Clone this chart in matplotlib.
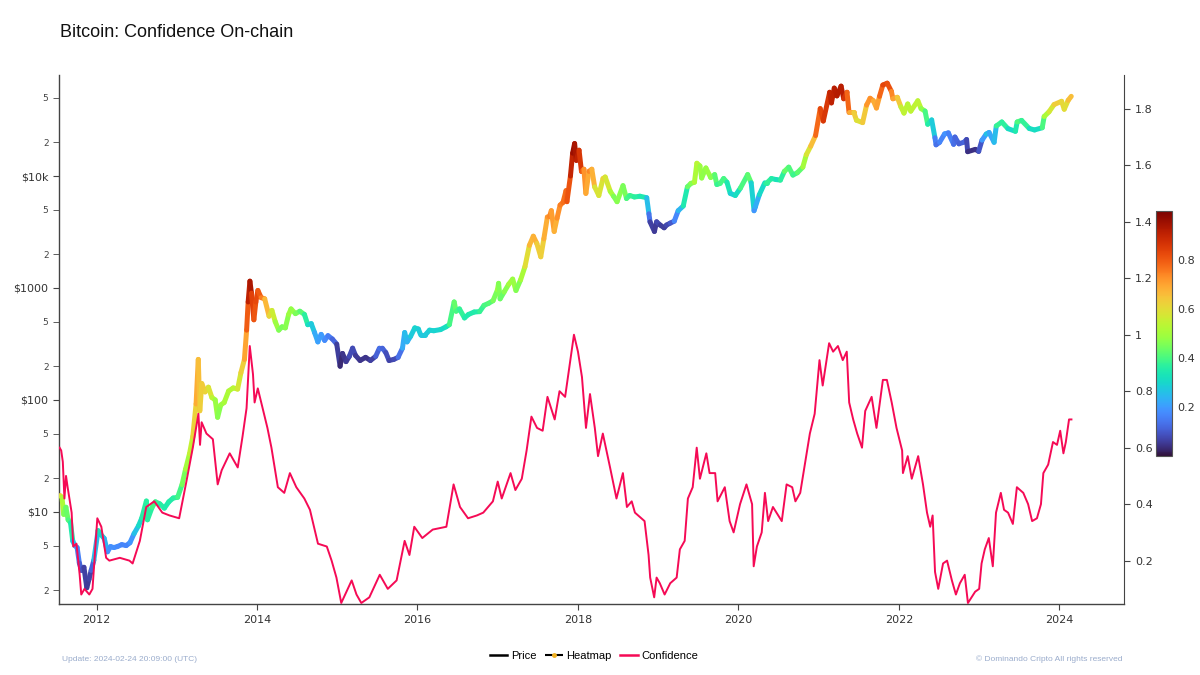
import numpy as np
import pandas as pd
import matplotlib
matplotlib.use("Agg")
import matplotlib.pyplot as plt
from matplotlib.collections import LineCollection
from matplotlib.colors import Normalize
from matplotlib.cm import ScalarMappable
from matplotlib.lines import Line2D
from matplotlib.ticker import FixedLocator, FuncFormatter, NullFormatter

# --- price (USD) with heatmap value ---
price_dates = [
    "2011-07-20", "2011-07-28", "2011-08-05", "2011-08-15", "2011-08-25", "2011-09-05", "2011-09-15",
    "2011-09-25", "2011-10-05", "2011-10-15", "2011-10-25", "2011-11-05", "2011-11-18", "2011-11-28",
    "2011-12-08", "2011-12-20", "2012-01-08", "2012-01-20", "2012-02-05", "2012-02-20", "2012-03-05",
    "2012-03-20", "2012-04-05", "2012-04-25", "2012-05-15", "2012-06-01", "2012-06-20", "2012-07-10",
    "2012-07-25", "2012-08-15", "2012-08-20", "2012-09-10", "2012-09-25", "2012-10-15", "2012-11-05",
    "2012-11-25", "2012-12-15", "2013-01-05", "2013-01-25", "2013-02-10", "2013-02-28", "2013-03-15",
    "2013-03-30", "2013-04-09", "2013-04-16", "2013-04-25", "2013-05-10", "2013-05-25", "2013-06-10",
    "2013-06-25", "2013-07-06", "2013-07-20", "2013-08-05", "2013-08-25", "2013-09-15", "2013-10-05",
    "2013-10-20", "2013-11-05", "2013-11-15", "2013-11-22", "2013-11-30", "2013-12-07", "2013-12-18",
    "2013-12-27", "2014-01-05", "2014-01-20", "2014-02-05", "2014-02-25", "2014-03-10", "2014-03-25",
    "2014-04-10", "2014-04-25", "2014-05-10", "2014-05-25", "2014-06-05", "2014-06-25", "2014-07-15",
    "2014-08-05", "2014-08-20", "2014-09-05", "2014-09-20", "2014-10-05", "2014-10-20", "2014-11-05",
    "2014-11-20", "2014-12-10", "2014-12-30", "2015-01-14", "2015-01-25", "2015-02-10", "2015-02-25",
    "2015-03-12", "2015-03-25", "2015-04-15", "2015-05-10", "2015-06-01", "2015-06-25", "2015-07-12",
    "2015-07-25", "2015-08-10", "2015-08-25", "2015-09-15", "2015-10-05", "2015-10-25", "2015-11-04",
    "2015-11-15", "2015-12-01", "2015-12-20", "2016-01-05", "2016-01-16", "2016-02-05", "2016-02-25",
    "2016-03-15", "2016-04-15", "2016-05-10", "2016-05-25", "2016-06-16", "2016-06-25", "2016-07-10",
    "2016-08-02", "2016-08-20", "2016-09-15", "2016-10-10", "2016-10-30", "2016-11-20", "2016-12-10",
    "2016-12-30", "2017-01-05", "2017-01-12", "2017-01-30", "2017-02-20", "2017-03-10", "2017-03-25",
    "2017-04-15", "2017-05-05", "2017-05-25", "2017-06-12", "2017-06-28", "2017-07-16", "2017-07-30",
    "2017-08-15", "2017-08-25", "2017-09-02", "2017-09-15", "2017-09-28", "2017-10-12", "2017-10-25",
    "2017-11-08", "2017-11-12", "2017-11-28", "2017-12-08", "2017-12-17", "2017-12-25", "2018-01-06",
    "2018-01-17", "2018-01-28", "2018-02-06", "2018-02-20", "2018-03-05", "2018-03-18", "2018-04-06",
    "2018-04-25", "2018-05-05", "2018-05-28", "2018-06-12", "2018-06-28", "2018-07-25", "2018-08-10",
    "2018-08-25", "2018-09-15", "2018-10-10", "2018-11-10", "2018-11-20", "2018-11-25", "2018-12-15",
    "2018-12-25", "2019-01-10", "2019-01-28", "2019-02-08", "2019-02-25", "2019-03-15", "2019-04-02",
    "2019-04-25", "2019-05-14", "2019-05-30", "2019-06-15", "2019-06-26", "2019-07-10", "2019-07-18",
    "2019-08-06", "2019-08-28", "2019-09-15", "2019-09-25", "2019-10-10", "2019-10-26", "2019-11-10",
    "2019-11-25", "2019-12-18", "2020-01-10", "2020-02-12", "2020-02-28", "2020-03-12", "2020-03-18",
    "2020-04-05", "2020-04-30", "2020-05-10", "2020-05-30", "2020-06-20", "2020-07-10", "2020-07-28",
    "2020-08-17", "2020-09-05", "2020-09-25", "2020-10-20", "2020-11-05", "2020-11-25", "2020-12-17",
    "2021-01-08", "2021-01-22", "2021-02-20", "2021-02-28", "2021-03-13", "2021-03-25", "2021-04-13",
    "2021-04-25", "2021-05-10", "2021-05-19", "2021-06-10", "2021-06-22", "2021-07-20", "2021-08-07",
    "2021-08-23", "2021-09-07", "2021-09-21", "2021-10-05", "2021-10-20", "2021-11-09", "2021-11-28",
    "2021-12-05", "2021-12-25", "2022-01-10", "2022-01-24", "2022-02-10", "2022-02-24", "2022-03-28",
    "2022-04-12", "2022-04-30", "2022-05-12", "2022-05-30", "2022-06-14", "2022-06-19", "2022-07-05",
    "2022-07-28", "2022-08-14", "2022-09-07", "2022-09-13", "2022-10-01", "2022-10-25", "2022-11-05",
    "2022-11-10", "2022-12-15", "2022-12-30", "2023-01-14", "2023-02-02", "2023-02-15", "2023-03-10",
    "2023-03-20", "2023-04-14", "2023-05-12", "2023-06-15", "2023-06-23", "2023-07-13", "2023-08-17",
    "2023-09-10", "2023-10-15", "2023-10-24", "2023-11-15", "2023-12-08", "2024-01-11", "2024-01-23",
    "2024-02-10", "2024-02-24",
]
price = [
    14, 13.5, 9.5, 11, 8.5, 8, 5.5, 5.0, 4.8, 3.5, 3.0, 3.2, 2.1, 2.5, 3.0, 3.7, 6.8, 6.3, 5.8, 4.4,
    4.9, 4.8, 4.9, 5.1, 5.0, 5.3, 6.4, 7.5, 8.8, 12.5, 8.5, 11.0, 12.3, 11.8, 10.8, 12.3, 13.3, 13.5,
    17.5, 24, 33, 47, 92, 230, 80, 140, 118, 130, 105, 100, 70, 90, 95, 120, 128, 125, 175, 230, 420,
    750, 1150, 900, 520, 750, 950, 820, 800, 560, 630, 500, 420, 450, 440, 580, 650, 590, 620, 580, 470,
    480, 400, 330, 385, 340, 375, 350, 315, 200, 260, 220, 245, 290, 250, 225, 240, 225, 245, 290, 290,
    265, 225, 230, 240, 290, 400, 330, 370, 440, 430, 380, 380, 420, 415, 425, 450, 470, 750, 620, 650,
    540, 580, 610, 615, 700, 730, 770, 960, 1100, 800, 920, 1080, 1200, 950, 1180, 1550, 2400, 2900,
    2500, 1900, 2750, 4300, 4350, 4900, 3200, 4200, 5500, 5800, 7400, 5900, 10000, 16000, 19500, 13800,
    17000, 11000, 11500, 7000, 11000, 11500, 8000, 6700, 9500, 9800, 7300, 6600, 5900, 8200, 6300, 6700,
    6500, 6600, 6400, 4600, 3900, 3200, 3900, 3650, 3450, 3650, 3800, 3950, 4900, 5400, 8000, 8600, 8800,
    13000, 12300, 9600, 11800, 9700, 10300, 8400, 8600, 9500, 8800, 7000, 6700, 7800, 10300, 8700, 4900,
    5300, 6800, 8700, 8700, 9500, 9300, 9200, 11000, 12000, 10200, 10700, 12000, 15500, 18500, 23000,
    40000, 31000, 56000, 45000, 61000, 52000, 63500, 49000, 56000, 37000, 37000, 31500, 30000, 43000,
    49500, 47000, 40500, 51500, 65000, 67500, 57000, 49000, 50500, 41500, 36500, 44000, 38000, 47000,
    40000, 38000, 29000, 31700, 22000, 19000, 20000, 23800, 24300, 19200, 22300, 19400, 20100, 21200,
    16500, 17300, 16600, 20900, 23700, 24500, 20000, 28000, 30400, 26500, 25100, 30400, 31400, 26600,
    25800, 27000, 34000, 37500, 43500, 46500, 39500, 47500, 51500,
]
heat = [
    0.62, 0.58, 0.45, 0.45, 0.42, 0.40, 0.30, 0.22, 0.20, 0.12, 0.10, 0.08, 0.05, 0.06, 0.08, 0.15, 0.35,
    0.32, 0.28, 0.20, 0.18, 0.18, 0.18, 0.17, 0.16, 0.17, 0.22, 0.30, 0.32, 0.40, 0.33, 0.40, 0.40, 0.37,
    0.35, 0.35, 0.36, 0.37, 0.42, 0.48, 0.52, 0.58, 0.66, 0.72, 0.60, 0.65, 0.62, 0.62, 0.55, 0.52, 0.45,
    0.48, 0.50, 0.52, 0.52, 0.55, 0.60, 0.65, 0.75, 0.85, 0.97, 0.90, 0.78, 0.83, 0.82, 0.78, 0.72, 0.62,
    0.60, 0.52, 0.46, 0.45, 0.45, 0.48, 0.50, 0.46, 0.44, 0.40, 0.33, 0.30, 0.25, 0.20, 0.22, 0.18, 0.17,
    0.14, 0.10, 0.02, 0.05, 0.05, 0.06, 0.10, 0.06, 0.05, 0.05, 0.05, 0.08, 0.14, 0.13, 0.10, 0.07, 0.07,
    0.09, 0.18, 0.28, 0.22, 0.26, 0.30, 0.30, 0.27, 0.27, 0.29, 0.29, 0.30, 0.31, 0.34, 0.46, 0.40, 0.40,
    0.35, 0.35, 0.35, 0.36, 0.40, 0.41, 0.42, 0.48, 0.50, 0.42, 0.45, 0.48, 0.52, 0.45, 0.47, 0.55, 0.65,
    0.70, 0.66, 0.60, 0.65, 0.72, 0.72, 0.76, 0.66, 0.70, 0.76, 0.74, 0.80, 0.76, 0.86, 0.94, 0.98, 0.90,
    0.92, 0.80, 0.80, 0.65, 0.74, 0.74, 0.62, 0.55, 0.62, 0.62, 0.53, 0.48, 0.43, 0.50, 0.40, 0.40, 0.37,
    0.36, 0.33, 0.18, 0.10, 0.03, 0.08, 0.07, 0.05, 0.07, 0.08, 0.12, 0.22, 0.27, 0.42, 0.45, 0.48, 0.55,
    0.52, 0.45, 0.50, 0.47, 0.46, 0.38, 0.38, 0.42, 0.38, 0.30, 0.28, 0.36, 0.45, 0.40, 0.18, 0.20, 0.26,
    0.35, 0.37, 0.38, 0.33, 0.32, 0.42, 0.44, 0.38, 0.40, 0.45, 0.55, 0.62, 0.70, 0.86, 0.80, 0.92, 0.88,
    0.94, 0.90, 0.95, 0.88, 0.85, 0.72, 0.66, 0.60, 0.58, 0.70, 0.74, 0.72, 0.66, 0.75, 0.82, 0.85, 0.78,
    0.70, 0.70, 0.58, 0.52, 0.56, 0.50, 0.58, 0.50, 0.45, 0.35, 0.36, 0.20, 0.12, 0.15, 0.18, 0.20, 0.12,
    0.14, 0.10, 0.12, 0.12, 0.03, 0.05, 0.04, 0.15, 0.25, 0.28, 0.16, 0.34, 0.42, 0.32, 0.30, 0.40, 0.42,
    0.33, 0.30, 0.33, 0.48, 0.55, 0.60, 0.66, 0.56, 0.64, 0.68,
]

# --- confidence (right axis), x in decimal years ---
conf_year = [
    2011.54, 2011.56, 2011.58, 2011.60, 2011.62, 2011.64, 2011.69, 2011.71, 2011.75, 2011.79, 2011.81,
    2011.85, 2011.91, 2011.95, 2012.01, 2012.06, 2012.12, 2012.16, 2012.29, 2012.41, 2012.45, 2012.54,
    2012.62, 2012.72, 2012.82, 2012.91, 2013.03, 2013.12, 2013.20, 2013.27, 2013.29, 2013.31, 2013.37,
    2013.45, 2013.51, 2013.56, 2013.66, 2013.72, 2013.76, 2013.82, 2013.87, 2013.91, 2013.95, 2013.97,
    2014.01, 2014.07, 2014.13, 2014.18, 2014.26, 2014.34, 2014.41, 2014.49, 2014.59, 2014.66, 2014.76,
    2014.87, 2014.93, 2014.99, 2015.05, 2015.18, 2015.24, 2015.30, 2015.40, 2015.53, 2015.63, 2015.74,
    2015.84, 2015.90, 2015.96, 2016.06, 2016.19, 2016.36, 2016.45, 2016.53, 2016.63, 2016.74, 2016.82,
    2016.94, 2017.00, 2017.05, 2017.16, 2017.22, 2017.30, 2017.36, 2017.42, 2017.49, 2017.56, 2017.62,
    2017.71, 2017.77, 2017.84, 2017.88, 2017.95, 2018.00, 2018.05, 2018.10, 2018.15, 2018.21, 2018.25,
    2018.31, 2018.40, 2018.48, 2018.56, 2018.61, 2018.67, 2018.71, 2018.83, 2018.88, 2018.90, 2018.95,
    2018.98, 2019.02, 2019.08, 2019.15, 2019.23, 2019.27, 2019.33, 2019.37, 2019.43, 2019.48, 2019.52,
    2019.60, 2019.64, 2019.71, 2019.74, 2019.83, 2019.89, 2019.94, 2020.02, 2020.10, 2020.17, 2020.19,
    2020.23, 2020.29, 2020.33, 2020.37, 2020.43, 2020.54, 2020.60, 2020.67, 2020.71, 2020.77, 2020.81,
    2020.85, 2020.89, 2020.95, 2021.01, 2021.05, 2021.13, 2021.18, 2021.24, 2021.30, 2021.35, 2021.38,
    2021.43, 2021.48, 2021.54, 2021.58, 2021.66, 2021.72, 2021.80, 2021.85, 2021.91, 2021.97, 2022.04,
    2022.05, 2022.11, 2022.16, 2022.24, 2022.30, 2022.35, 2022.39, 2022.42, 2022.45, 2022.49, 2022.55,
    2022.60, 2022.66, 2022.71, 2022.76, 2022.82, 2022.86, 2022.95, 2023.00, 2023.03, 2023.07, 2023.12,
    2023.17, 2023.21, 2023.27, 2023.31, 2023.36, 2023.42, 2023.47, 2023.55, 2023.61, 2023.66, 2023.72,
    2023.77, 2023.80, 2023.86, 2023.92, 2023.97, 2024.01, 2024.05, 2024.08, 2024.12, 2024.15,
]
confidence = [
    0.60, 0.59, 0.55, 0.42, 0.50, 0.46, 0.37, 0.25, 0.26, 0.15, 0.08, 0.10, 0.08, 0.10, 0.35, 0.32, 0.21,
    0.20, 0.21, 0.20, 0.19, 0.27, 0.39, 0.41, 0.37, 0.36, 0.35, 0.48, 0.60, 0.72, 0.61, 0.69, 0.65, 0.63,
    0.47, 0.52, 0.58, 0.55, 0.53, 0.64, 0.74, 0.96, 0.86, 0.76, 0.81, 0.74, 0.67, 0.60, 0.46, 0.44, 0.51,
    0.46, 0.42, 0.38, 0.26, 0.25, 0.20, 0.14, 0.05, 0.13, 0.08, 0.05, 0.07, 0.15, 0.10, 0.13, 0.27, 0.22,
    0.32, 0.28, 0.31, 0.32, 0.47, 0.39, 0.35, 0.36, 0.37, 0.41, 0.48, 0.42, 0.51, 0.45, 0.49, 0.59, 0.71,
    0.67, 0.66, 0.78, 0.70, 0.80, 0.78, 0.86, 1.00, 0.94, 0.85, 0.67, 0.79, 0.67, 0.57, 0.65, 0.53, 0.42,
    0.51, 0.39, 0.41, 0.37, 0.34, 0.22, 0.14, 0.07, 0.14, 0.12, 0.08, 0.12, 0.14, 0.24, 0.27, 0.42, 0.46,
    0.60, 0.49, 0.58, 0.51, 0.51, 0.41, 0.46, 0.34, 0.30, 0.40, 0.47, 0.40, 0.18, 0.25, 0.30, 0.44, 0.34,
    0.39, 0.34, 0.47, 0.46, 0.41, 0.44, 0.51, 0.58, 0.65, 0.72, 0.91, 0.82, 0.97, 0.94, 0.96, 0.91, 0.94,
    0.76, 0.70, 0.65, 0.60, 0.73, 0.78, 0.67, 0.84, 0.84, 0.76, 0.67, 0.59, 0.51, 0.57, 0.49, 0.57, 0.47,
    0.37, 0.32, 0.36, 0.16, 0.10, 0.19, 0.20, 0.13, 0.08, 0.12, 0.15, 0.05, 0.09, 0.10, 0.19, 0.24, 0.28,
    0.18, 0.37, 0.44, 0.38, 0.37, 0.33, 0.46, 0.44, 0.40, 0.34, 0.35, 0.40, 0.51, 0.54, 0.62, 0.61, 0.66,
    0.58, 0.62, 0.70, 0.70,
]

price_tick_vals = [10, 100, 1000, 10000]
price_tick_labels = ["$10", "$100", "$1000", "$10k"]
minor_vals = [2, 5, 20, 50, 200, 500, 2000, 5000, 20000, 50000]
conf_ticks = [0.2, 0.4, 0.6, 0.8, 1.0, 1.2, 1.4, 1.6, 1.8]
year_ticks = [2012, 2014, 2016, 2018, 2020, 2022, 2024]

CONF_COLOR = "#f50a55"
AXIS_COLOR = "#444444"

d = pd.to_datetime(pd.Series(price_dates))
price_year = (d.dt.year + (d.dt.dayofyear - 1) / 365.25).to_numpy()
price_arr = np.array(price, dtype=float)
heat_arr = np.array(heat, dtype=float)

fig = plt.figure(figsize=(12, 6.75), dpi=100)
ax = fig.add_axes([0.049, 0.105, 0.888, 0.784])

# price line underneath, heatmap trace on top
ax.plot(price_year, price_arr, color="black", lw=1.2, zorder=2)
pts = np.column_stack([price_year, price_arr]).reshape(-1, 1, 2)
segs = np.concatenate([pts[:-1], pts[1:]], axis=1)
seg_heat = (heat_arr[:-1] + heat_arr[1:]) / 2
norm = Normalize(0, 1)
lc = LineCollection(segs, cmap="turbo", norm=norm, linewidths=3.6, capstyle="round",
                    joinstyle="round", zorder=3)
lc.set_array(seg_heat)
ax.add_collection(lc)

ax.set_yscale("log")
ax.set_ylim(1.5, 80000)
ax.set_xlim(2011.53, 2024.81)
ax.yaxis.set_major_locator(FixedLocator(price_tick_vals))
ax.yaxis.set_major_formatter(FuncFormatter(lambda v, p: price_tick_labels[price_tick_vals.index(round(v))]
                                           if round(v) in price_tick_vals else ""))
ax.yaxis.set_minor_locator(FixedLocator(minor_vals))
ax.yaxis.set_minor_formatter(FuncFormatter(lambda v, p: str(int(round(v / 10 ** np.floor(np.log10(v)))))))
ax.tick_params(axis="y", which="major", labelsize=8, length=4, color=AXIS_COLOR, labelcolor="#333333")
ax.tick_params(axis="y", which="minor", labelsize=6.5, length=4, color=AXIS_COLOR, labelcolor="#444444")
ax.set_xticks(year_ticks)
ax.set_xticklabels([str(y) for y in year_ticks])
ax.tick_params(axis="x", labelsize=8, length=4, color=AXIS_COLOR, labelcolor="#333333")
for s in ["top", "right"]:
    ax.spines[s].set_visible(False)
for s in ["left", "bottom"]:
    ax.spines[s].set_color(AXIS_COLOR)
    ax.spines[s].set_linewidth(1.0)

# confidence on right axis
ax2 = ax.twinx()
ax2.plot(conf_year, confidence, color=CONF_COLOR, lw=1.4, zorder=4)
ax2.set_ylim(0.046, 1.92)
ax2.set_yticks(conf_ticks)
ax2.yaxis.set_major_formatter(FuncFormatter(lambda v, p: f"{v:g}"))
ax2.tick_params(axis="y", labelsize=8, length=4, color=AXIS_COLOR, labelcolor="#333333")
for s in ["top", "left", "bottom"]:
    ax2.spines[s].set_visible(False)
ax2.spines["right"].set_color(AXIS_COLOR)

# colorbar
cax = fig.add_axes([0.963, 0.324, 0.014, 0.363])
cb = fig.colorbar(ScalarMappable(norm=norm, cmap="turbo"), cax=cax, ticks=[0.2, 0.4, 0.6, 0.8])
cb.ax.tick_params(labelsize=8, length=0, labelcolor="#333333")
cb.outline.set_edgecolor("#555555")
cb.outline.set_linewidth(0.8)

# title and footer
fig.text(0.05, 0.952, "Bitcoin: Confidence On-chain", fontsize=13, family=["Liberation Sans", "DejaVu Sans"],
         color="#111111", va="center")
fig.text(0.052, 0.023, "Update: 2024-02-24 20:09:00 (UTC)", fontsize=6, color="#9aaccc", va="center",
         family=["Liberation Sans Narrow", "Liberation Sans"])
fig.text(0.935, 0.023, "\u00a9 Dominando Cripto All rights reserved", fontsize=6, color="#9aaccc",
         va="center", ha="right", family=["Liberation Sans Narrow", "Liberation Sans"])

handles = [
    Line2D([0], [0], color="black", lw=1.8),
    Line2D([0], [0], color="black", lw=1.5, ls="--", marker="o", markersize=2.5,
           markerfacecolor="#f0b020", markeredgecolor="#f0b020"),
    Line2D([0], [0], color=CONF_COLOR, lw=1.8),
]
fig.legend(handles, ["Price", "Heatmap", "Confidence"], loc="center", bbox_to_anchor=(0.495, 0.028),
           ncol=3, frameon=False, fontsize=8, handlelength=1.6, handletextpad=0.3, columnspacing=0.8,
           prop={"family": ["Liberation Sans Narrow", "Liberation Sans"], "size": 8})

fig.savefig("out.png", dpi=100, facecolor="white")
